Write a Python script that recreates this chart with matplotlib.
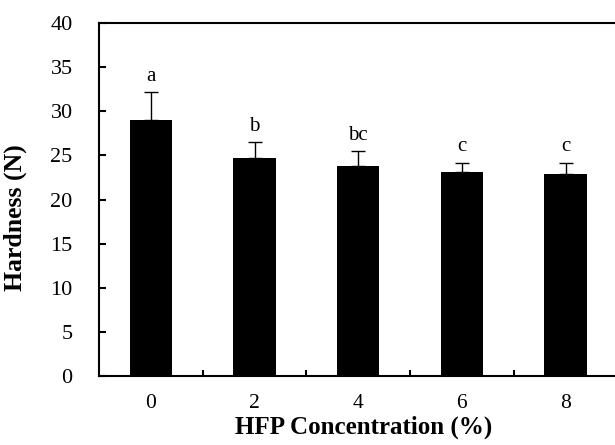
import matplotlib
matplotlib.use("Agg")
import matplotlib.pyplot as plt
import numpy as np

conc = ["0", "2", "4", "6", "8"]
hardness = [29.0, 24.7, 23.8, 23.15, 22.95]
err = [3.2, 1.8, 1.7, 1.05, 1.25]
letters = ["a", "b", "bc", "c", "c"]

plt.rcParams['font.family'] = ['Liberation Serif', 'DejaVu Serif']

fig = plt.figure(figsize=(6.15, 4.45), dpi=100)
ax = fig.add_axes([0.161, 0.155, 0.843, 0.793])

x = np.arange(len(conc))
ax.bar(x, hardness, width=0.41, color='black', zorder=2)
ax.errorbar(x, hardness, yerr=[np.zeros(len(err)), err], fmt='none',
            ecolor='black', elinewidth=1, capsize=5, capthick=1, zorder=3)

for xi, h, e, t in zip(x, hardness, err, letters):
    ax.annotate(t, (xi, h + e), xytext=(0, 4.5), textcoords='offset points',
                ha='center', va='bottom', fontsize=15)

ax.set_xlim(-0.5, len(conc) - 0.5)
ax.set_ylim(0, 40)
ax.set_yticks(np.arange(0, 41, 5))
ax.set_xticks(x)
ax.set_xticklabels(conc)
ax.set_xticks(np.arange(0.5, len(conc) - 0.5, 1), minor=True)

ax.tick_params(axis='y', direction='in', length=5, width=1.5, labelsize=16, pad=19, right=False)
ax.tick_params(axis='x', which='major', length=0, labelsize=15.5, pad=13)
ax.tick_params(axis='x', which='minor', direction='in', length=4, width=1.5, top=False)

for s in ax.spines.values():
    s.set_linewidth(1.5)

ax.set_ylabel("Hardness (N)", fontsize=18.5, fontweight='bold')
ax.yaxis.set_label_coords(-0.138, 0.45)
ax.set_xlabel("HFP Concentration (%)", fontsize=18, fontweight='bold', va='top')
ax.xaxis.set_label_coords(0.51, -0.112)

plt.savefig("out.png", dpi=100)
